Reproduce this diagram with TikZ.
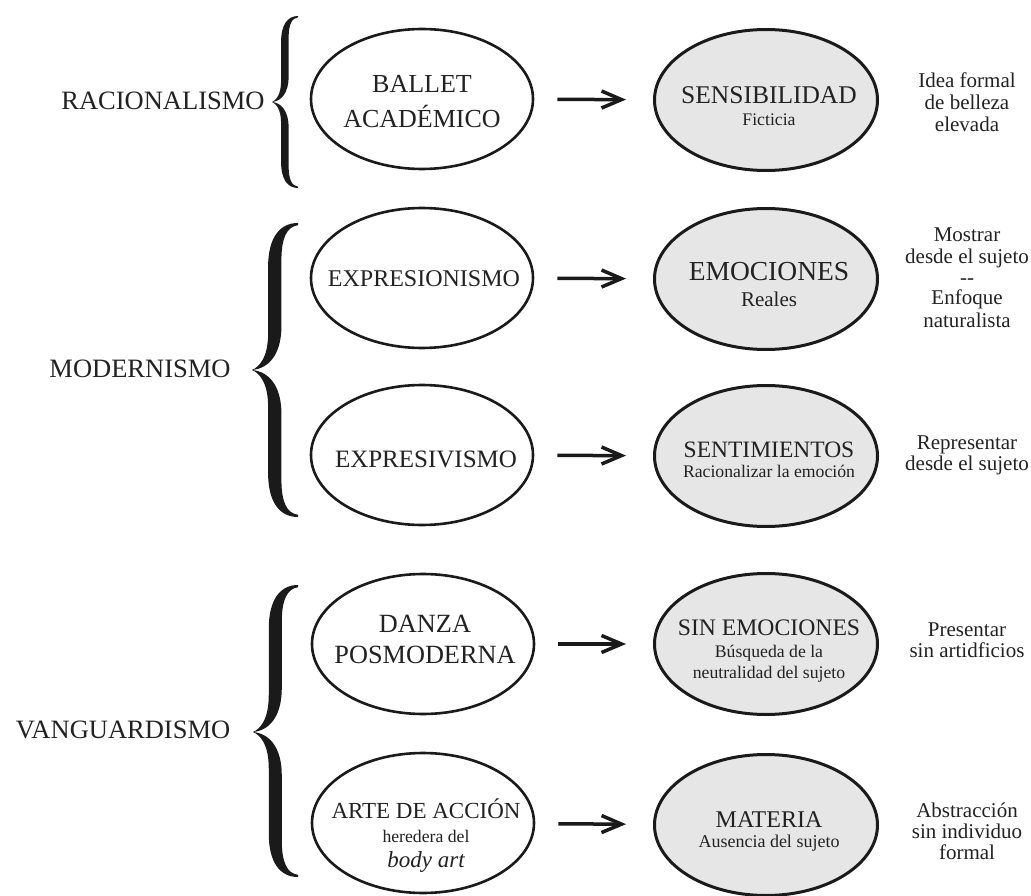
\documentclass[tikz,border=0pt]{standalone}
\usepackage{fontspec}
\setmainfont{Liberation Serif}
\usetikzlibrary{shapes.geometric,arrows.meta}
\definecolor{ink}{HTML}{1A1A1A}
\definecolor{txt}{HTML}{222222}
\definecolor{fillg}{HTML}{E6E6E6}
\newcommand\fs[1]{\fontsize{#1}{#1}\selectfont}
\newcommand\halfbracepath{%
  \fill[ink] (0,0) .. controls (0.15,-0.02) and (0.35,-0.08) .. (0.35,-0.25)
      -- (0.35,-0.7)
      .. controls (0.35,-0.9) and (0.6,-1) .. (1,-1)
      -- (1,-0.985)
      .. controls (0.76,-0.975) and (0.64,-0.9) .. (0.64,-0.75)
      -- (0.64,-0.3)
      .. controls (0.64,-0.1) and (0.35,-0.01) .. (0,0) -- cycle;}
\tikzset{
  lefte/.style={ellipse, draw=ink, line width=2.6pt, minimum width=222pt, minimum height=140pt, inner sep=0pt},
  righte/.style={ellipse, draw=ink, fill=fillg, line width=3pt, minimum width=223pt, minimum height=141pt, inner sep=0pt},
  conn/.style={-{Straight Barb[length=20pt,width=17pt]}, line width=3.5pt, draw=ink, shorten <=23pt, shorten >=27pt},
  lbl/.style={anchor=base, text=txt, inner sep=0pt},
  big/.style={lbl, font=\fs{26.5}},
  note/.style={lbl, font=\fs{21}},
  sub/.style={lbl, font=\fs{17.7}},
}
\newcommand\bracepic[5]{%
  \begin{scope}[shift={(#1,#2)},xscale=#3,yscale=#4] \halfbracepath \end{scope}
  \begin{scope}[shift={(#1,#2)},xscale=#3,yscale=-#5] \halfbracepath \end{scope}}
\begin{document}
\begin{tikzpicture}[x=1pt,y=-1pt]
\useasboundingbox (0,0) rectangle (1031,896);
% braces
\bracepic{272}{102}{26}{86}{86}
\bracepic{252}{370}{46}{147}{147}
\bracepic{253}{732}{45}{147}{145}
% group labels
\node[big] (racio) at (163,110) {RACIONALISMO};
\node[big] (moder) at (140,377) {MODERNISMO};
\node[big] (vang) at (123,738) {VANGUARDISMO};
% left ellipses
\node[lefte] (l1) at (422,99) {};
\node[lefte] (l2) at (422,278) {};
\node[lefte] (l3) at (422,455) {};
\node[lefte] (l4) at (423,644) {};
\node[lefte] (l5) at (423,823) {};
% right ellipses
\node[righte] (r1) at (766,100) {};
\node[righte] (r2) at (766,279) {};
\node[righte] (r3) at (766,456) {};
\node[righte] (r4) at (766,644) {};
\node[righte] (r5) at (766,825) {};
% arrows
\draw[conn] (l1) -- (r1);
\draw[conn] (l2) -- (r2);
\draw[conn] (l3) -- (r3);
\draw[conn] (l4) -- (r4);
\draw[conn] (l5) -- (r5);
% left ellipse texts
\node[lbl, font=\fs{26}] (t1a) at (422,93) {BALLET};
\node[lbl, font=\fs{26}] (t1b) at (422,128) {ACADÉMICO};
\node[lbl, font=\fs{24}] (t2) at (424,287) {EXPRESIONISMO};
\node[lbl, font=\fs{25}] (t3) at (426,467) {EXPRESIVISMO};
\node[lbl, font=\fs{26.3}] (t4a) at (425,632) {DANZA};
\node[lbl, font=\fs{26.3}] (t4b) at (425,663) {POSMODERNA};
\node[lbl, font=\fs{23}] (t5a) at (426,818) {ARTE DE ACCIÓN};
\node[sub] (t5b) at (426,842) {heredera del};
\node[lbl, font=\fs{23}\itshape] (t5c) at (426,867) {body art};
% right ellipse texts
\node[lbl, font=\fs{25.5}] (s1a) at (769,104) {SENSIBILIDAD};
\node[sub] (s1b) at (769,126) {Ficticia};
\node[lbl, font=\fs{27.5}] (s2a) at (769,280) {EMOCIONES};
\node[lbl, font=\fs{21}] (s2b) at (769,306) {Reales};
\node[lbl, font=\fs{23.5}] (s3a) at (769,457) {SENTIMIENTOS};
\node[sub] (s3b) at (769,477) {Racionalizar la emoción};
\node[lbl, font=\fs{23.7}] (s4a) at (769,635) {SIN EMOCIONES};
\node[sub] (s4b) at (769,657) {Búsqueda de la};
\node[sub] (s4c) at (769,678) {neutralidad del sujeto};
\node[lbl, font=\fs{24}] (s5a) at (769,827) {MATERIA};
\node[lbl, font=\fs{18}] (s5b) at (769,847) {Ausencia del sujeto};
% notes
\node[note] (n1a) at (967,88) {Idea formal};
\node[note] (n1b) at (967,110) {de belleza};
\node[note] (n1c) at (967,132) {elevada};
\node[note] (n2a) at (967,242) {Mostrar};
\node[note] (n2b) at (967,263) {desde el sujeto};
\node[note] (n2c) at (967,284) {-{}-};
\node[note] (n2d) at (967,305) {Enfoque};
\node[note] (n2e) at (967,327) {naturalista};
\node[note] (n3a) at (967,449) {Representar};
\node[note] (n3b) at (967,470) {desde el sujeto};
\node[note] (n4a) at (967,636) {Presentar};
\node[note] (n4b) at (967,657) {sin artidficios};
\node[note] (n5a) at (967,817) {Abstracción};
\node[note] (n5b) at (967,838) {sin individuo};
\node[note] (n5c) at (967,859) {formal};
\end{tikzpicture}
\end{document}
